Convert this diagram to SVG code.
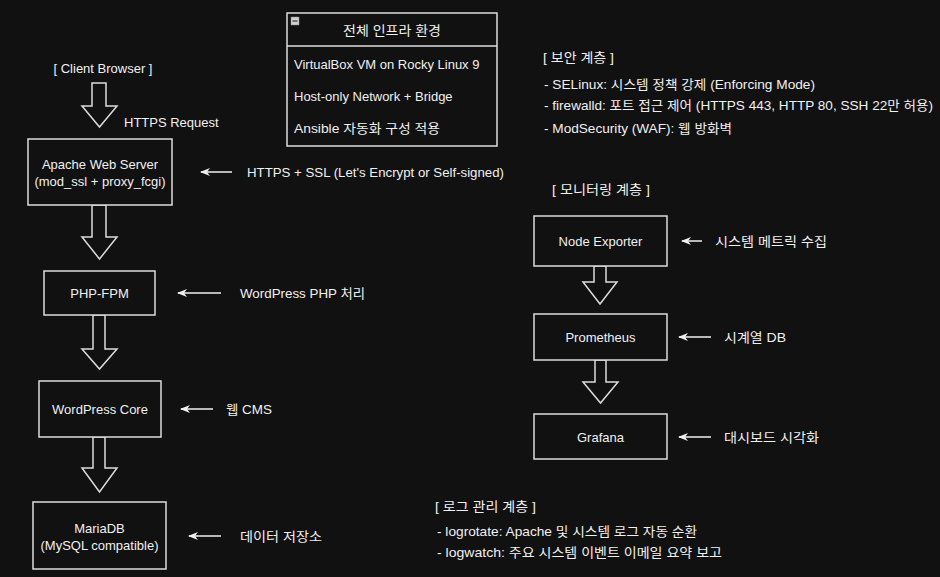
<svg xmlns="http://www.w3.org/2000/svg" width="940" height="577" viewBox="0 0 940 577">
<defs>
<marker id="ah" markerWidth="10" markerHeight="8" refX="1" refY="4" orient="auto" markerUnits="userSpaceOnUse">
<path d="M0,4 L10,0 L7,4 L10,8 Z" fill="#f0f0f0"/>
</marker>
</defs>
<style>
text{font-family:"Liberation Sans","Noto Sans CJK KR",Arial,sans-serif;font-size:13px;fill:#f0f0f0}
.c{text-anchor:middle}
.box{fill:#111111;stroke:#dcdcdc;stroke-width:1.5}
.blk{fill:none;stroke:#dcdcdc;stroke-width:1.5;stroke-linejoin:miter}
.la{stroke:#f0f0f0;stroke-width:1.5;marker-start:url(#ah)}
</style>
<rect width="940" height="577" fill="#111111"/>

<g id="connectors">
<polygon class="blk" points="92,83 106,83 106,106 117,106 99.5,127 82,106 92,106"/>
<polygon class="blk" points="92,205 106,205 106,237 117,237 99.5,259 82,237 92,237"/>
<polygon class="blk" points="93,315 105,315 105,349 117,349 99.5,369 82,349 93,349"/>
<polygon class="blk" points="93,437 105,437 105,468 117,468 99.5,492 82,468 93,468"/>
<polygon class="blk" points="594,266 606,266 606,282 617,282 600,304 583,282 594,282"/>
<polygon class="blk" points="595,360 606,360 606,382 618,382 600.5,403 583,382 595,382"/>
<line class="la" x1="201" y1="172" x2="232" y2="172"/>
<line class="la" x1="178" y1="293" x2="221" y2="293"/>
<line class="la" x1="181" y1="409" x2="213" y2="409"/>
<line class="la" x1="189" y1="536" x2="221" y2="536"/>
<line class="la" x1="682" y1="241" x2="702" y2="241"/>
<line class="la" x1="679" y1="337" x2="711" y2="337"/>
<line class="la" x1="679" y1="437" x2="711" y2="437"/>
</g>

<g id="client"><text class="c" x="103" y="72.5">[ Client Browser ]</text></g>
<text x="124" y="127">HTTPS Request</text>

<g id="apache">
<rect class="box" x="28" y="139" width="144" height="66"/>
<text class="c" x="100" y="168.5">Apache Web Server</text>
<text class="c" x="100" y="185.5">(mod_ssl + proxy_fcgi)</text>
</g>
<text x="247" y="176.5" textLength="257" lengthAdjust="spacingAndGlyphs">HTTPS + SSL (Let's Encrypt or Self-signed)</text>

<g id="phpfpm">
<rect class="box" x="44" y="271" width="111" height="44"/>
<text class="c" x="99.5" y="297.5">PHP-FPM</text>
</g>
<text x="240" y="297.5" textLength="125" lengthAdjust="spacingAndGlyphs">WordPress PHP 처리</text>

<g id="wpcore">
<rect class="box" x="39" y="381" width="122" height="56"/>
<text class="c" x="100" y="413.5">WordPress Core</text>
</g>
<text x="226" y="413.5" textLength="46" lengthAdjust="spacingAndGlyphs">웹 CMS</text>

<g id="mariadb">
<rect class="box" x="33" y="502" width="133" height="67"/>
<text class="c" x="99.5" y="532.5">MariaDB</text>
<text class="c" x="99.5" y="549.5">(MySQL compatible)</text>
</g>
<text x="240" y="540.5" textLength="82" lengthAdjust="spacingAndGlyphs">데이터 저장소</text>

<g id="infra">
<rect class="box" x="287" y="13" width="210" height="133"/>
<line x1="287" y1="46" x2="497" y2="46" stroke="#dcdcdc" stroke-width="1.5"/>
<rect x="291" y="17" width="8" height="8" fill="#cfcfcf" stroke="#888" stroke-width="0.5"/>
<line x1="292.5" y1="21" x2="297.5" y2="21" stroke="#333" stroke-width="1.2"/>
<text x="343" y="34.5" textLength="98" lengthAdjust="spacingAndGlyphs">전체 인프라 환경</text>
<text x="294" y="68.5">VirtualBox VM on Rocky Linux 9</text>
<text x="294" y="100.5">Host-only Network + Bridge</text>
<text x="294" y="132.5" textLength="146" lengthAdjust="spacingAndGlyphs">Ansible 자동화 구성 적용</text>
</g>

<g id="security">
<text x="543" y="61.5" textLength="71" lengthAdjust="spacingAndGlyphs">[ 보안 계층 ]</text>
<text x="544" y="88.5" textLength="271" lengthAdjust="spacingAndGlyphs">- SELinux: 시스템 정책 강제 (Enforcing Mode)</text>
<text x="544" y="109.5" textLength="389" lengthAdjust="spacingAndGlyphs">- firewalld: 포트 접근 제어 (HTTPS 443, HTTP 80, SSH 22만 허용)</text>
<text x="544" y="132.5" textLength="188" lengthAdjust="spacingAndGlyphs">- ModSecurity (WAF): 웹 방화벽</text>
</g>

<g id="monitoring-title"><text x="552" y="193.5" textLength="98" lengthAdjust="spacingAndGlyphs">[ 모니터링 계층 ]</text></g>

<g id="nodeexporter">
<rect class="box" x="534" y="216" width="133" height="50"/>
<text class="c" x="600.5" y="245.5">Node Exporter</text>
</g>
<text x="715" y="245.5" textLength="112" lengthAdjust="spacingAndGlyphs">시스템 메트릭 수집</text>

<g id="prometheus">
<rect class="box" x="534" y="314" width="133" height="46"/>
<text class="c" x="600.5" y="341.5">Prometheus</text>
</g>
<text x="724" y="341.5" textLength="62" lengthAdjust="spacingAndGlyphs">시계열 DB</text>

<g id="grafana">
<rect class="box" x="534" y="414" width="133" height="45"/>
<text class="c" x="600.5" y="441.5">Grafana</text>
</g>
<text x="724" y="441.5" textLength="95" lengthAdjust="spacingAndGlyphs">대시보드 시각화</text>

<g id="logging">
<text x="435" y="510.5" textLength="101" lengthAdjust="spacingAndGlyphs">[ 로그 관리 계층 ]</text>
<text x="437" y="535.5" textLength="260" lengthAdjust="spacingAndGlyphs">- logrotate: Apache 및 시스템 로그 자동 순환</text>
<text x="437" y="556.5" textLength="285" lengthAdjust="spacingAndGlyphs">- logwatch: 주요 시스템 이벤트 이메일 요약 보고</text>
</g>
</svg>
